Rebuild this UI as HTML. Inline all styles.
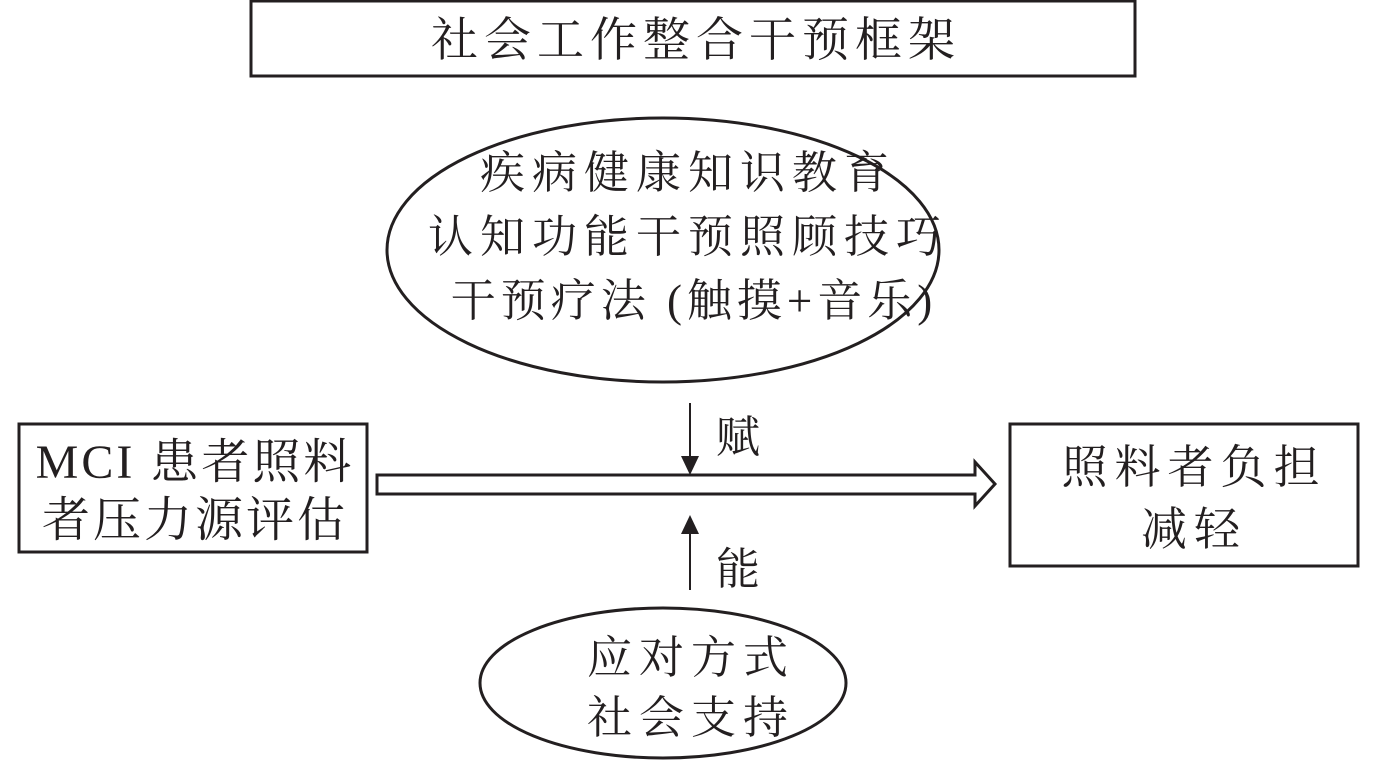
<!DOCTYPE html>
<html><head><meta charset="utf-8"><style>
html,body{margin:0;padding:0;background:#fff;}
svg text{font-family:"Liberation Serif","Noto Serif CJK SC","Noto Sans CJK SC",serif;fill:#231f20;}
</style></head><body>
<svg width="1378" height="761" viewBox="0 0 1378 761" xmlns="http://www.w3.org/2000/svg">
<rect x="251" y="1" width="884" height="75" fill="none" stroke="#231f20" stroke-width="3"/>
<text x="696" y="56" font-size="47" text-anchor="middle" letter-spacing="6">社会工作整合干预框架</text>

<ellipse cx="663" cy="250" rx="276" ry="132" fill="none" stroke="#231f20" stroke-width="3"/>
<text x="688" y="188" font-size="45" text-anchor="middle" letter-spacing="7">疾病健康知识教育</text>
<text x="688" y="252" font-size="45" text-anchor="middle" letter-spacing="7">认知功能干预照顾技巧</text>
<text x="694" y="316" font-size="45" text-anchor="middle" letter-spacing="5">干预疗法 (触摸+音乐)</text>

<rect x="19" y="424" width="348" height="128" fill="none" stroke="#231f20" stroke-width="3"/>
<text x="195" y="478" font-size="48" text-anchor="middle" letter-spacing="3">MCI 患者照料</text>
<text x="195" y="536" font-size="48" text-anchor="middle" letter-spacing="3">者压力源评估</text>

<rect x="1010" y="424" width="348" height="142" fill="none" stroke="#231f20" stroke-width="3"/>
<text x="1194" y="483" font-size="46" text-anchor="middle" letter-spacing="7">照料者负担</text>
<text x="1194" y="545" font-size="46" text-anchor="middle" letter-spacing="7">减轻</text>

<polygon points="377,475 975,475 975,462 995,484 975,506 975,494 377,494" fill="#fff" stroke="#231f20" stroke-width="3" stroke-linejoin="miter"/>

<line x1="690" y1="403" x2="690" y2="458" stroke="#231f20" stroke-width="2"/>
<polygon points="681,456 699,456 690,475" fill="#231f20"/>
<text x="716" y="452" font-size="44">赋</text>

<line x1="690" y1="590" x2="690" y2="532" stroke="#231f20" stroke-width="2"/>
<polygon points="681,534 699,534 690,515" fill="#231f20"/>
<text x="716" y="584" font-size="44">能</text>

<ellipse cx="663" cy="683" rx="183" ry="75" fill="none" stroke="#231f20" stroke-width="3"/>
<text x="691" y="673" font-size="45" text-anchor="middle" letter-spacing="7">应对方式</text>
<text x="691" y="733" font-size="45" text-anchor="middle" letter-spacing="7">社会支持</text>
</svg>
</body></html>
